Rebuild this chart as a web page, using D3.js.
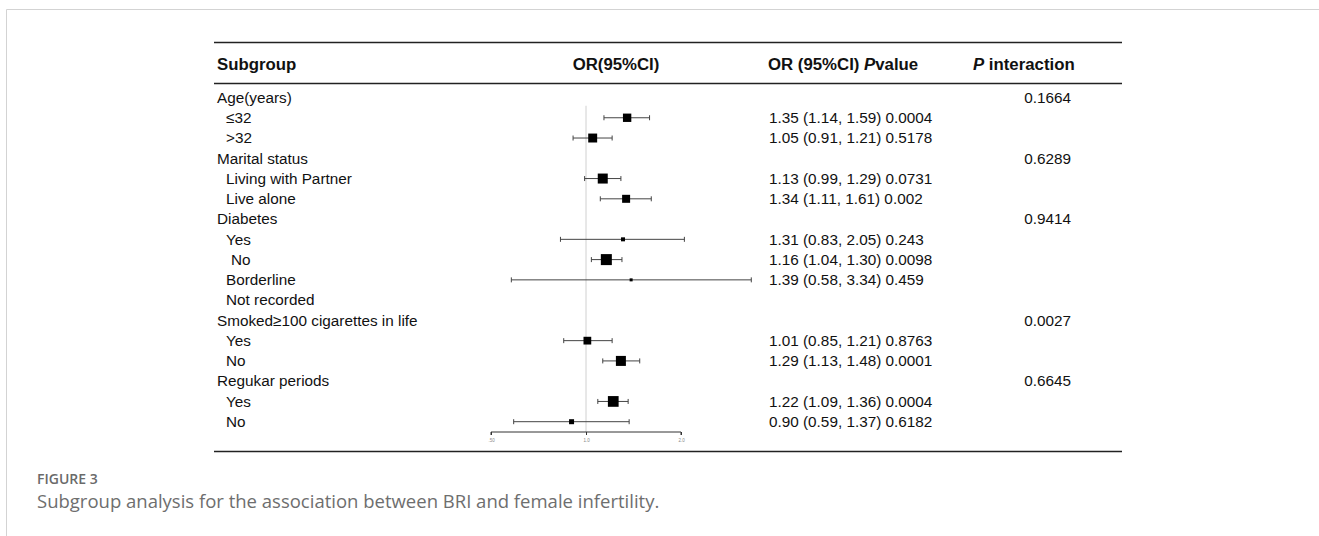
<!DOCTYPE html>
<html>
<head>
<meta charset="utf-8">
<script src="https://cdn.jsdelivr.net/npm/d3@7"></script>
<style>
  body { margin: 0; background: #fff; }
  svg { display: block; }
</style>
</head>
<body>
<div id="chart"></div>
<script>
// subgroup rows, top to bottom
const labels = ["Age(years)", "≤32", ">32", "Marital status", "Living with Partner", "Live alone",
  "Diabetes", "Yes", "No", "Borderline", "Not recorded", "Smoked≥100 cigarettes in life", "Yes", "No",
  "Regukar periods", "Yes", "No"];
const indent = [0, 1, 1, 0, 1, 1, 0, 1, 2, 1, 1, 0, 1, 1, 0, 1, 1];
const orValues = [null, 1.35, 1.05, null, 1.13, 1.34, null, 1.31, 1.16, 1.39, null, null, 1.01, 1.29, null, 1.22, 0.90];
const lowerCI = [null, 1.14, 0.91, null, 0.99, 1.11, null, 0.83, 1.04, 0.58, null, null, 0.85, 1.13, null, 1.09, 0.59];
const upperCI = [null, 1.59, 1.21, null, 1.29, 1.61, null, 2.05, 1.30, 3.34, null, null, 1.21, 1.48, null, 1.36, 1.37];
const pValues = [null, "0.0004", "0.5178", null, "0.0731", "0.002", null, "0.243", "0.0098", "0.459", null, null, "0.8763", "0.0001", null, "0.0004", "0.6182"];
const pInteraction = ["0.1664", null, null, "0.6289", null, null, "0.9414", null, null, null, null, "0.0027", null, null, "0.6645", null, null];
// relative weight of each estimate (box area)
const weights = [null, 70, 80, null, 100, 64, null, 16, 121, 9, null, null, 60, 100, null, 115, 25];
const axisTicks = [0.5, 1.0, 2.0];
const tickLabels = [".50", "1.0", "2.0"];

const W = 1319, H = 536;
const svg = d3.select("#chart").append("svg").attr("width", W).attr("height", H);

// card frame
svg.append("path")
  .attr("d", `M${W},9.5 H6.5 V${H}`)
  .attr("fill", "none").attr("stroke", "#d3d3d3");

const font = "Liberation Sans, Arial, sans-serif";
const tableLeft = 214, tableRight = 1122;

const y = d3.scalePoint().domain(d3.range(labels.length)).range([97.5, 421.7]);
const x = d3.scaleLog().base(2).domain([0.5, 2]).range([491, 681]);
const box = d3.scaleSqrt().domain([0, 100]).range([0, 10]);

// table rules
[42.5, 83.5, 451.5].forEach(yy => {
  svg.append("line").attr("x1", tableLeft).attr("x2", tableRight)
    .attr("y1", yy).attr("y2", yy).attr("stroke", "#222").attr("stroke-width", 1.3);
});

// headers
const head = svg.append("g").attr("font-family", font).attr("font-weight", "bold")
  .attr("font-size", 16.8).attr("fill", "#111");
head.append("text").attr("x", 217).attr("y", 69.5).text("Subgroup");
head.append("text").attr("x", 616).attr("y", 69.5).attr("text-anchor", "middle").text("OR(95%CI)");
const h3 = head.append("text").attr("x", 768).attr("y", 69.5);
h3.append("tspan").text("OR (95%CI) ");
h3.append("tspan").attr("font-style", "italic").text("P");
h3.append("tspan").text("value");
const h4 = head.append("text").attr("x", 973).attr("y", 69.5);
h4.append("tspan").attr("font-style", "italic").text("P");
h4.append("tspan").text(" interaction");

const rows = d3.range(labels.length);
const body = svg.append("g").attr("font-family", font).attr("font-size", 15.3).attr("fill", "#111");

body.selectAll(".lab").data(rows).enter().append("text")
  .attr("x", i => 217 + [0, 9, 14][indent[i]])
  .attr("y", i => y(i) + 5.3)
  .text(i => labels[i]);

body.selectAll(".est").data(rows.filter(i => orValues[i] != null)).enter().append("text")
  .attr("x", 769).attr("y", i => y(i) + 5.3)
  .text(i => `${orValues[i].toFixed(2)} (${lowerCI[i].toFixed(2)}, ${upperCI[i].toFixed(2)}) ${pValues[i]}`);

body.selectAll(".pint").data(rows.filter(i => pInteraction[i] != null)).enter().append("text")
  .attr("x", 1071).attr("y", i => y(i) + 5.3).attr("text-anchor", "end")
  .text(i => pInteraction[i]);

// reference line at OR = 1
svg.append("line").attr("x1", x(1)).attr("x2", x(1))
  .attr("y1", y(1) - 12).attr("y2", 432).attr("stroke", "#d0d0d0");

// CI whiskers and boxes
const est = svg.append("g").selectAll("g").data(rows.filter(i => orValues[i] != null)).enter().append("g");
est.append("line")
  .attr("x1", i => x(lowerCI[i])).attr("x2", i => x(upperCI[i]))
  .attr("y1", i => y(i)).attr("y2", i => y(i))
  .attr("stroke", "#444").attr("stroke-width", 1);
est.append("line").attr("x1", i => x(lowerCI[i])).attr("x2", i => x(lowerCI[i]))
  .attr("y1", i => y(i) - 2.5).attr("y2", i => y(i) + 2.5).attr("stroke", "#444");
est.append("line").attr("x1", i => x(upperCI[i])).attr("x2", i => x(upperCI[i]))
  .attr("y1", i => y(i) - 2.5).attr("y2", i => y(i) + 2.5).attr("stroke", "#444");
est.append("rect")
  .attr("x", i => x(orValues[i]) - box(weights[i]) / 2)
  .attr("y", i => y(i) - box(weights[i]) / 2)
  .attr("width", i => box(weights[i]))
  .attr("height", i => box(weights[i]))
  .attr("fill", "#000");

// x axis
const axis = svg.append("g").attr("transform", "translate(0,432)")
  .call(d3.axisBottom(x).tickValues(axisTicks).tickFormat((d, i) => tickLabels[i]).tickSize(3));
axis.select(".domain").attr("stroke", "#333").attr("d", `M${x(0.5)},3V0H${x(2)}V3`);
axis.selectAll(".tick line").attr("stroke", "#333");
axis.selectAll(".tick text").attr("font-size", 4.5).attr("fill", "#888").attr("dy", "0.9em");

// caption
svg.append("text").attr("x", 37).attr("y", 484)
  .attr("font-family", "Open Sans, sans-serif").attr("font-size", 14).attr("font-weight", 600)
  .attr("fill", "#6a6a6a")
  .text("FIGURE 3");
svg.append("text").attr("x", 37).attr("y", 508)
  .attr("font-family", "Open Sans, sans-serif").attr("font-size", 18.5).attr("fill", "#6e6e6e")
  .text("Subgroup analysis for the association between BRI and female infertility.");
</script>
</body>
</html>
